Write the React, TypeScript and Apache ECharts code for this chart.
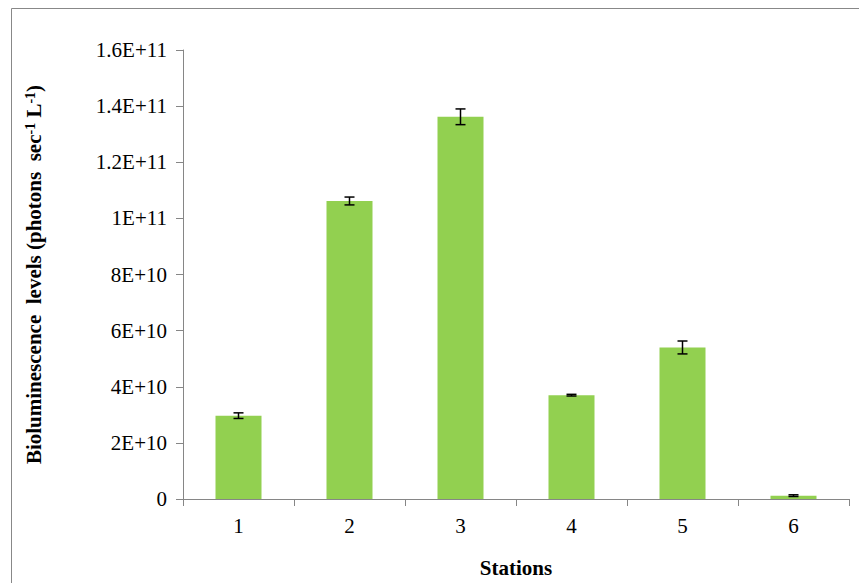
import React, { useEffect, useRef } from "react";
import * as echarts from "echarts";

const stations = ["1", "2", "3", "4", "5", "6"];
const values = [2.97e10, 1.062e11, 1.362e11, 3.7e10, 5.4e10, 1.2e9];
const errors = [1.0e9, 1.4e9, 2.8e9, 3e8, 2.3e9, 3e8];

const serif = "'Liberation Serif', 'DejaVu Serif', 'Times New Roman', serif";

const App: React.FC = () => {
  const chartRef = useRef<HTMLDivElement>(null);

  useEffect(() => {
    if (!chartRef.current) return;
    const chart = echarts.init(chartRef.current, null, { renderer: "svg" });
    chart.setOption({
      animation: false,
      textStyle: { fontFamily: serif },
      graphic: [
        {
          type: "rect",
          shape: { x: 11.5, y: 8.5, width: 860, height: 600 },
          style: { fill: "none", stroke: "#888", lineWidth: 1 },
          silent: true,
        },
      ],
      grid: { left: 183, right: 10, top: 50, bottom: 82 },
      xAxis: {
        type: "category",
        data: stations,
        name: "Stations",
        nameLocation: "middle",
        nameGap: 58,
        nameTextStyle: { fontFamily: serif, fontWeight: "bold", fontSize: 21, color: "#000" },
        axisLine: { lineStyle: { color: "#868686" } },
        axisTick: { show: true, length: 7, lineStyle: { color: "#868686" } },
        axisLabel: { fontFamily: serif, fontSize: 21, color: "#000", margin: 16 },
      },
      yAxis: {
        type: "value",
        min: 0,
        max: 1.6e11,
        interval: 2e10,
        name: "{b|Bioluminescence  levels (photons  sec}{s|-1}{b| L}{s|-1}{b|)}",
        nameLocation: "middle",
        nameGap: 138,
        nameTextStyle: {
          rich: {
            b: { fontFamily: serif, fontWeight: "bold", fontSize: 21, color: "#000" },
            s: { fontFamily: serif, fontWeight: "bold", fontSize: 14, color: "#000", verticalAlign: "top", padding: [0, 0, 8, 0] },
          },
        },
        splitLine: { show: false },
        axisLine: { show: true, lineStyle: { color: "#868686" } },
        axisTick: { show: true, length: 7, lineStyle: { color: "#868686" } },
        axisLabel: {
          fontFamily: serif,
          fontSize: 21,
          color: "#000",
          margin: 16,
          formatter: (v: number) => {
            if (v === 0) return "0";
            const exp = Math.floor(Math.log10(v));
            const m = Math.round((v / Math.pow(10, exp)) * 10) / 10;
            return `${m}E+${exp}`;
          },
        },
      },
      series: [
        {
          type: "bar",
          data: values,
          barWidth: 46,
          itemStyle: { color: "#92d050" },
        },
        {
          type: "custom",
          data: values.map((v, i) => [i, v, errors[i]]),
          renderItem: (params: any, api: any) => {
            const x = api.value(0);
            const v = api.value(1);
            const e = api.value(2);
            const hi = api.coord([x, v + e]);
            const lo = api.coord([x, v - e]);
            const w = 5;
            const st = { stroke: "#000", lineWidth: 1.5 };
            return {
              type: "group",
              children: [
                { type: "line", shape: { x1: hi[0], y1: hi[1], x2: lo[0], y2: lo[1] }, style: st },
                { type: "line", shape: { x1: hi[0] - w, y1: hi[1], x2: hi[0] + w, y2: hi[1] }, style: st },
                { type: "line", shape: { x1: lo[0] - w, y1: lo[1], x2: lo[0] + w, y2: lo[1] }, style: st },
              ],
            };
          },
          z: 10,
        },
      ],
    });
    return () => chart.dispose();
  }, []);

  return (
    <div
      ref={chartRef}
      style={{ position: "absolute", left: 0, top: 0, width: 859, height: 583, background: "#fff" }}
    />
  );
};

export default App;
